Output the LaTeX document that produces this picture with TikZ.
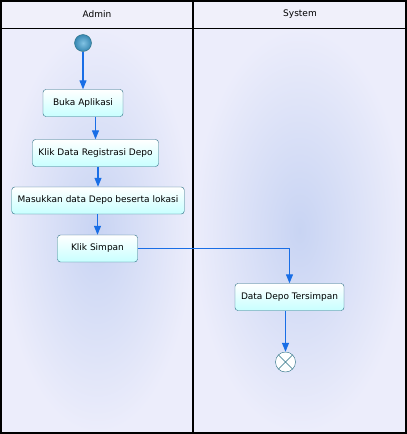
\documentclass[tikz,border=0pt]{standalone}
\usepackage{fontspec}
\setmainfont{DejaVu Sans}
\usetikzlibrary{calc}
\usetikzlibrary{positioning}
\usetikzlibrary{arrows.meta}
\definecolor{laneOuterColor}{RGB}{236,237,251}
\definecolor{laneInnerColor}{RGB}{200,212,243}
\definecolor{headerColor}{RGB}{240,240,250}
\definecolor{actionLineColor}{RGB}{40,110,130}
\definecolor{actionFillColor}{RGB}{200,255,255}
\definecolor{flowLineColor}{RGB}{25,110,230}
\definecolor{startInnerColor}{RGB}{130,195,228}
\definecolor{startOuterColor}{RGB}{55,135,178}
\tikzset{
	action/.style = {
		draw = actionLineColor, rounded corners = 3pt,
		top color = white, bottom color = actionFillColor,
		minimum height = 27pt, minimum width = 80pt, inner xsep = 6pt,
		font = \fontsize{9}{10}\selectfont
	},
	flowLineStyle/.style = {
		draw = flowLineColor, line width = 1.1pt,
		-{Triangle[width=7pt,length=9pt]}
	},
	laneHeader/.style = {
		font = \fontsize{9}{10}\selectfont
	}
}

\begin{document}
\begin{tikzpicture}[x=1pt, y=-1pt]

	\useasboundingbox (0,0) rectangle (407,434);
	% swimlanes
	\shade [inner color=laneInnerColor, outer color=laneOuterColor] (1,28) rectangle (193,433);
	\shade [inner color=laneInnerColor, outer color=laneOuterColor] (193,28) rectangle (406,433);
	\fill [headerColor] (1,1) rectangle (406,28);
	\draw [line width=1.5pt] (1,1) rectangle (406,433);
	\draw (1,28) -- (406,28);
	\draw [line width=1.5pt] (193,1) -- (193,433);
	\node [laneHeader] (admin) at (97,14) {Admin};
	\node [laneHeader] (system) at (300,14) {System};

	% activity
	\node [circle, draw = actionLineColor, inner color = startInnerColor, outer color = startOuterColor, minimum size = 17pt, inner sep = 0pt] (start) at (83,43) {};
	\node [action] (buka) at (83,103) {Buka Aplikasi};
	\node [action] (klik) at (95.5,153) {Klik Data Registrasi Depo};
	\node [action] (masuk) at (98,200.5) {Masukkan data Depo beserta lokasi};
	\node [action] (simpan) at (97.5,248.5) {Klik Simpan};
	\node [action] (tersimpan) at (289.5,297) {Data Depo Tersimpan};
	\node [circle, draw = actionLineColor, fill = white, minimum size = 20pt, inner sep = 0pt,
		path picture = {
			\draw [actionLineColor] (path picture bounding box.north west) -- (path picture bounding box.south east);
			\draw [actionLineColor] (path picture bounding box.north east) -- (path picture bounding box.south west);
		}] (end) at (285.5,362) {};

	\draw [flowLineStyle] (start) -- (buka);
	\draw [flowLineStyle] (klik.north |- buka.south) -- (klik.north);
	\draw [flowLineStyle] (masuk.north |- klik.south) -- (masuk.north);
	\draw [flowLineStyle] (simpan.north |- masuk.south) -- (simpan.north);
	\draw [flowLineStyle] (simpan.east) -| (tersimpan.north);
	\draw [flowLineStyle] (end.north |- tersimpan.south) -- (end.north);
\end{tikzpicture}
\end{document}
